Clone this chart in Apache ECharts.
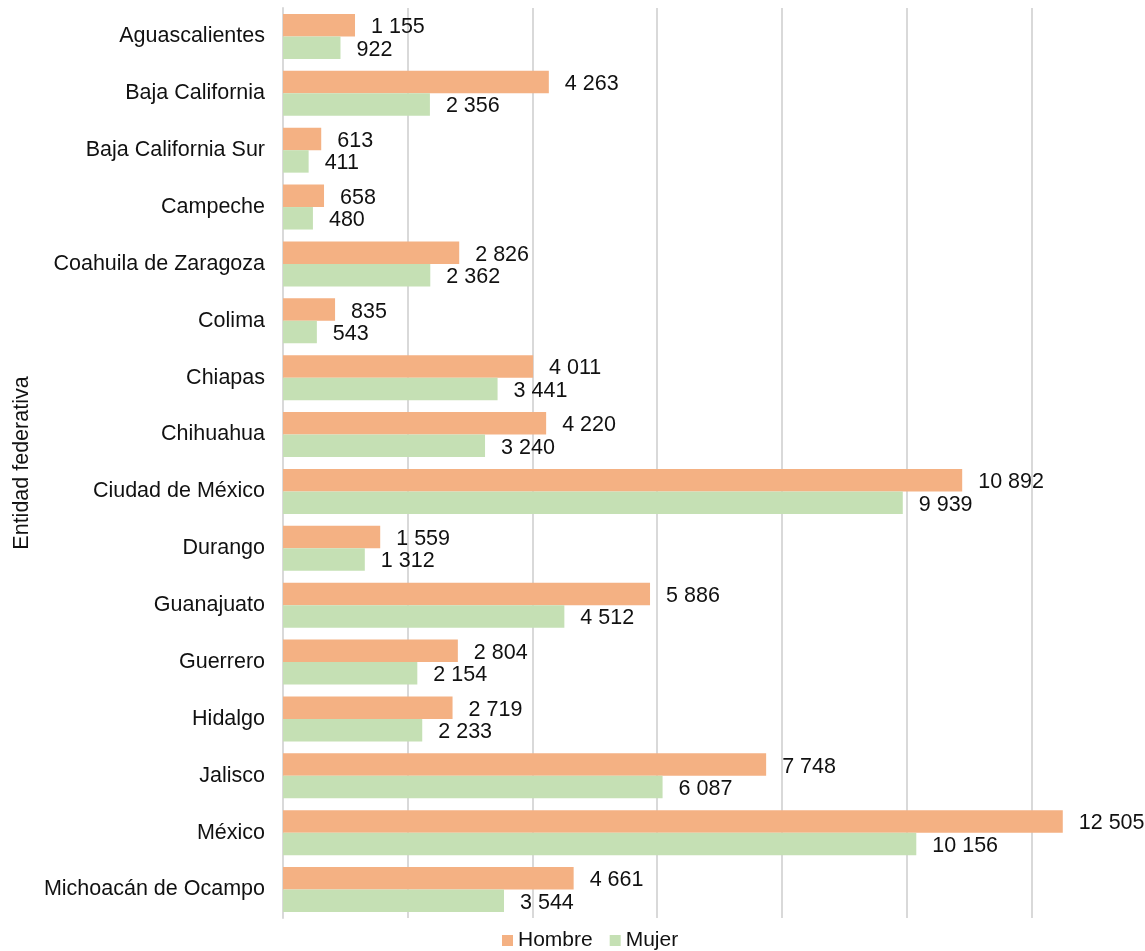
<!DOCTYPE html>
<html>
<head>
<meta charset="utf-8">
<script src="https://cdn.jsdelivr.net/npm/echarts@6/dist/echarts.min.js"></script>
<style>html,body{margin:0;padding:0;background:#fff;overflow:hidden}#c{width:1156px;height:951px}</style>
</head>
<body>
<div id="c"></div>
<script>
const categories = ["Aguascalientes","Baja California","Baja California Sur","Campeche","Coahuila de Zaragoza","Colima","Chiapas","Chihuahua","Ciudad de México","Durango","Guanajuato","Guerrero","Hidalgo","Jalisco","México","Michoacán de Ocampo"];
const hombre = [1155,4263,613,658,2826,835,4011,4220,10892,1559,5886,2804,2719,7748,12505,4661];
const mujer = [922,2356,411,480,2362,543,3441,3240,9939,1312,4512,2154,2233,6087,10156,3544];
const seriesNames = ["Hombre","Mujer"];

const FONT = "'Liberation Sans', Arial, sans-serif";
const FS = 21.5;
const fmt = v => String(v).replace(/\B(?=(\d{3})+(?!\d))/g, ' ');
const chart = echarts.init(document.getElementById('c'));
const lbl = {show:true, position:'right', distance:16, offset:[0,2], color:'#111', fontSize:FS, fontFamily:FONT, formatter:p=>fmt(p.value)};
chart.setOption({
  animation:false,
  textStyle:{fontFamily:FONT},
  grid:{left:283, right:0, top:8, bottom:33, containLabel:false},
  legend:{data:seriesNames, top:925, left:497, itemWidth:11, itemHeight:11, itemGap:17, itemTextGap:5, icon:'rect',
    textStyle:{fontSize:21, fontFamily:FONT, color:'#111'}},
  xAxis:{type:'value', min:0, max:14000, interval:2000,
    axisLabel:{show:false}, axisLine:{show:false}, axisTick:{show:false},
    splitLine:{lineStyle:{color:'#d9d9d9', width:2}}},
  yAxis:{type:'category', data:categories, inverse:true,
    name:'Entidad federativa', nameLocation:'middle', nameGap:241,
    nameTextStyle:{fontSize:FS, fontFamily:FONT, color:'#111'},
    axisLine:{lineStyle:{color:'#d9d9d9', width:2}}, axisTick:{show:false},
    axisLabel:{fontSize:FS, fontFamily:FONT, color:'#111', margin:18}},
  series:[
    {name:seriesNames[0], type:'bar', data:hombre, itemStyle:{color:'#F4B183'}, barGap:'0%', barCategoryGap:'21%', label:lbl},
    {name:seriesNames[1], type:'bar', data:mujer, itemStyle:{color:'#C5E0B4'}, barGap:'0%', barCategoryGap:'21%', label:lbl}
  ]
});
</script>
</body>
</html>
